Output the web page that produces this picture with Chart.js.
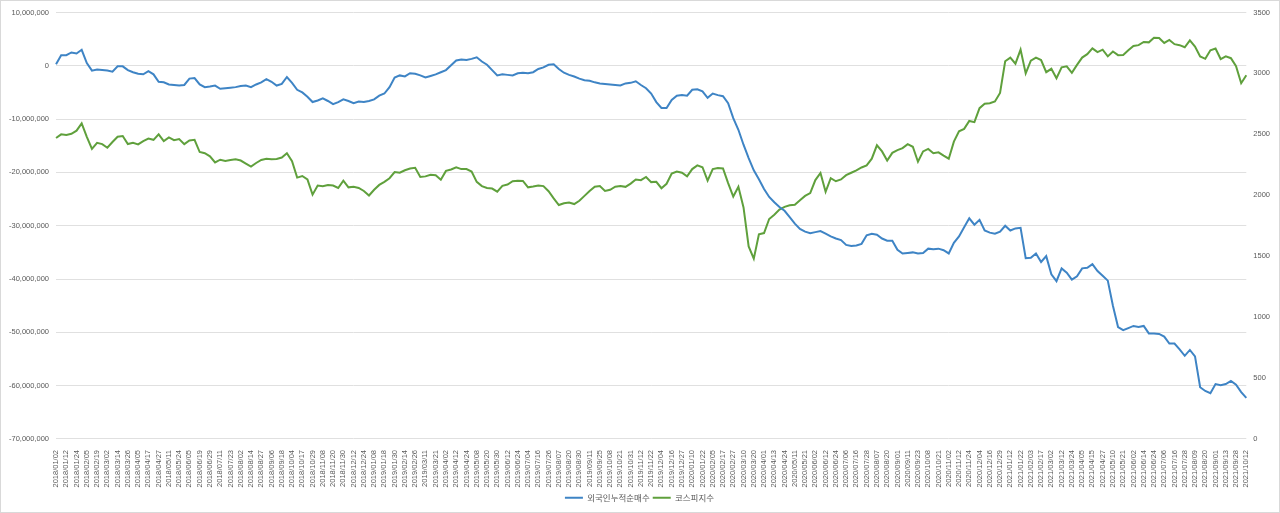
<!DOCTYPE html>
<html>
<head>
<meta charset="utf-8">
<script src="https://cdn.jsdelivr.net/npm/chart.js@4"></script>
<style>
html,body{margin:0;padding:0;background:#fff;}
#wrap{width:1280px;height:513px;position:relative;box-sizing:border-box;border:1px solid #d9d9d9;}
canvas{display:block;}
</style>
</head>
<body>
<div id="wrap"><canvas id="c" width="1278" height="511"></canvas></div>
<script>
// Tick labels shown on the x axis (every other data point)
const tickDates = [
'2018/01/02','2018/01/12','2018/01/24','2018/02/05','2018/02/19','2018/03/02','2018/03/14','2018/03/26','2018/04/05','2018/04/17',
'2018/04/27','2018/05/11','2018/05/24','2018/06/05','2018/06/19','2018/06/29','2018/07/11','2018/07/23','2018/08/02','2018/08/14',
'2018/08/27','2018/09/06','2018/09/18','2018/10/04','2018/10/17','2018/10/29','2018/11/08','2018/11/20','2018/11/30','2018/12/12',
'2018/12/24','2019/01/08','2019/01/18','2019/01/30','2019/02/14','2019/02/26','2019/03/11','2019/03/21','2019/04/02','2019/04/12',
'2019/04/24','2019/05/08','2019/05/20','2019/05/30','2019/06/12','2019/06/24','2019/07/04','2019/07/16','2019/07/26','2019/08/07',
'2019/08/20','2019/08/30','2019/09/11','2019/09/25','2019/10/08','2019/10/21','2019/10/31','2019/11/12','2019/11/22','2019/12/04',
'2019/12/16','2019/12/27','2020/01/10','2020/01/22','2020/02/05','2020/02/17','2020/02/27','2020/03/10','2020/03/20','2020/04/01',
'2020/04/13','2020/04/24','2020/05/11','2020/05/21','2020/06/02','2020/06/12','2020/06/24','2020/07/06','2020/07/16','2020/07/28',
'2020/08/07','2020/08/20','2020/09/01','2020/09/11','2020/09/23','2020/10/08','2020/10/21','2020/11/02','2020/11/12','2020/11/24',
'2020/12/04','2020/12/16','2020/12/29','2021/01/12','2021/01/22','2021/02/03','2021/02/17','2021/03/02','2021/03/12','2021/03/24',
'2021/04/05','2021/04/15','2021/04/27','2021/05/10','2021/05/21','2021/06/02','2021/06/14','2021/06/24','2021/07/06','2021/07/16',
'2021/07/28','2021/08/09','2021/08/20','2021/09/01','2021/09/13','2021/09/28','2021/10/12'
];

// 외국인누적순매수 (in millions, left axis)
const foreignNetBuyMillions = [
0.3,2.0,2.0,2.5,2.3,3.0,0.5,-0.9,-0.7,-0.8,
-0.9,-1.1,-0.1,-0.1,-0.8,-1.2,-1.5,-1.6,-1.0,-1.6,
-3.0,-3.1,-3.5,-3.6,-3.7,-3.6,-2.4,-2.3,-3.5,-4.0,
-3.9,-3.7,-4.3,-4.2,-4.1,-4.0,-3.8,-3.7,-4.0,-3.5,
-3.1,-2.5,-3.0,-3.7,-3.4,-2.1,-3.2,-4.5,-5.0,-5.8,
-6.8,-6.5,-6.1,-6.6,-7.2,-6.8,-6.3,-6.6,-7.0,-6.7,
-6.8,-6.6,-6.3,-5.6,-5.2,-4.0,-2.2,-1.8,-2.0,-1.4,
-1.5,-1.8,-2.2,-1.9,-1.6,-1.2,-0.8,0.1,1.0,1.2,
1.1,1.3,1.6,0.8,0.2,-0.8,-1.8,-1.6,-1.7,-1.8,
-1.4,-1.3,-1.4,-1.2,-0.6,-0.3,0.2,0.3,-0.6,-1.3,
-1.7,-2.0,-2.4,-2.7,-2.8,-3.1,-3.3,-3.4,-3.5,-3.6,
-3.7,-3.3,-3.2,-2.9,-3.6,-4.2,-5.2,-6.8,-7.9,-7.9,
-6.4,-5.6,-5.5,-5.6,-4.5,-4.4,-4.8,-6.0,-5.2,-5.5,
-5.7,-7.0,-9.8,-12.0,-14.8,-17.3,-19.6,-21.3,-23.1,-24.6,
-25.6,-26.5,-27.2,-28.4,-29.6,-30.6,-31.1,-31.4,-31.2,-31.0,
-31.5,-32.0,-32.4,-32.7,-33.6,-33.8,-33.7,-33.4,-31.8,-31.5,
-31.7,-32.4,-32.8,-32.8,-34.5,-35.2,-35.1,-35.0,-35.2,-35.1,
-34.3,-34.4,-34.3,-34.6,-35.2,-33.2,-32.0,-30.3,-28.6,-29.8,
-28.9,-30.9,-31.3,-31.5,-31.1,-30.0,-30.9,-30.5,-30.4,-36.1,
-36.0,-35.2,-36.8,-35.7,-39.1,-40.4,-38.0,-38.8,-40.1,-39.5,
-38.0,-37.9,-37.2,-38.5,-39.4,-40.3,-45.0,-49.0,-49.6,-49.2,
-48.8,-49.0,-48.8,-50.2,-50.2,-50.3,-50.8,-52.1,-52.1,-53.2,
-54.4,-53.3,-54.5,-60.3,-61.0,-61.4,-59.7,-59.9,-59.7,-59.1,
-59.8,-61.2,-62.3
];

// 코스피지수 (right axis)
const kospiIndex = [
2470,2500,2495,2505,2530,2590,2480,2380,2430,2420,
2390,2437,2480,2486,2420,2430,2418,2445,2465,2455,
2500,2445,2475,2452,2462,2420,2450,2455,2355,2345,
2320,2270,2292,2282,2290,2295,2285,2260,2235,2265,
2290,2300,2295,2298,2310,2345,2280,2145,2158,2130,
2005,2080,2075,2085,2080,2060,2120,2065,2070,2060,
2035,1998,2045,2085,2110,2140,2190,2185,2205,2220,
2225,2150,2155,2168,2165,2128,2200,2212,2230,2215,
2215,2195,2110,2075,2060,2055,2030,2077,2088,2115,
2120,2118,2065,2072,2080,2075,2033,1974,1920,1935,
1940,1928,1955,1995,2035,2070,2075,2035,2045,2070,
2075,2069,2096,2130,2124,2150,2108,2110,2058,2094,
2178,2195,2185,2155,2215,2245,2230,2120,2215,2224,
2220,2100,1990,2070,1900,1580,1480,1680,1690,1805,
1840,1882,1905,1918,1922,1960,1995,2018,2125,2183,
2028,2140,2115,2130,2165,2185,2205,2228,2245,2300,
2410,2360,2285,2348,2370,2387,2420,2398,2275,2360,
2380,2345,2352,2325,2300,2440,2525,2545,2610,2600,
2715,2752,2755,2770,2840,3100,3130,3080,3195,3000,
3105,3130,3110,3010,3038,2960,3050,3058,3005,3070,
3130,3158,3205,3175,3195,3140,3180,3150,3152,3190,
3225,3232,3258,3255,3292,3290,3250,3275,3240,3232,
3215,3272,3220,3140,3120,3190,3205,3118,3140,3125,
3060,2920,2985
];

const categories = foreignNetBuyMillions.map((_, i) => (i % 2 === 0 ? tickDates[i / 2] : ''));
const foreignNetBuy = foreignNetBuyMillions.map(v => Math.round(v * 1e6));

const gray = '#595959';
const fontFam = "'Liberation Sans','Noto Sans CJK KR',sans-serif";

new Chart(document.getElementById('c'), {
  type: 'line',
  data: {
    labels: categories,
    datasets: [
      {
        label: '외국인누적순매수',
        data: foreignNetBuy,
        yAxisID: 'y',
        borderColor: '#3E84C5',
        backgroundColor: '#3E84C5',
        borderWidth: 2,
        pointRadius: 0,
        tension: 0
      },
      {
        label: '코스피지수',
        data: kospiIndex,
        yAxisID: 'y2',
        borderColor: '#5FA03C',
        backgroundColor: '#5FA03C',
        borderWidth: 2,
        pointRadius: 0,
        tension: 0
      }
    ]
  },
  options: {
    responsive: false,
    animation: false,
    devicePixelRatio: 1,
    layout: { padding: { left: 1, right: 2, top: 5, bottom: 0 } },
    plugins: {
      tooltip: { enabled: false },
      legend: {
        position: 'bottom',
        labels: {
          usePointStyle: true,
          pointStyle: 'line',
          pointStyleWidth: 18,
          color: gray,
          font: { family: "'Noto Sans CJK KR',sans-serif", size: 8.5 },
          padding: 3
        }
      }
    },
    scales: {
      x: {
        type: 'category',
        offset: false,
        grid: { display: false },
        border: { display: false },
        ticks: {
          autoSkip: false,
          maxRotation: 90,
          minRotation: 90,
          color: gray,
          padding: 3,
          font: { family: fontFam, size: 7.5 },
          callback: function (val, idx) {
            const l = categories[idx];
            return l === '' ? null : l;
          }
        }
      },
      y: {
        position: 'left',
        min: -70000000,
        max: 10000000,
        grid: { color: '#e0e0e0', drawTicks: false },
        border: { display: false },
        ticks: {
          stepSize: 10000000,
          color: gray,
          padding: 7,
          font: { family: fontFam, size: 7.5 },
          callback: v => v.toLocaleString('en-US')
        }
      },
      y2: {
        position: 'right',
        min: 0,
        max: 3500,
        grid: { display: false, drawTicks: false },
        border: { display: false },
        ticks: {
          stepSize: 500,
          color: gray,
          padding: 7,
          font: { family: fontFam, size: 7.5 },
          callback: v => String(v)
        }
      }
    }
  }
});
</script>
</body>
</html>
